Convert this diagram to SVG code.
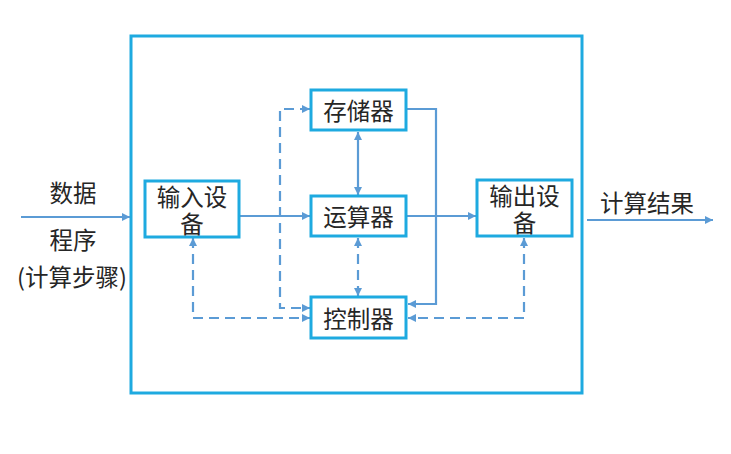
<svg xmlns="http://www.w3.org/2000/svg" width="731" height="454" viewBox="0 0 731 454">
<defs>
<style>
.frame{fill:none;stroke:#1eaae0;stroke-width:3}
.box{fill:#ffffff;stroke:#1eaae0;stroke-width:3}
.t{font-family:"Noto Sans CJK SC","Noto Sans",sans-serif;font-size:23.5px;fill:#262626;text-anchor:middle;dominant-baseline:central}
.c{fill:none;stroke:#5b9bd5;stroke-width:2.2}
.d{stroke-dasharray:10,6}
</style>
<marker id="a" viewBox="0 0 10 10" refX="10" refY="5" markerUnits="userSpaceOnUse" markerWidth="9" markerHeight="8" orient="auto-start-reverse">
<path d="M0,0 L10,5 L0,10 z" fill="#5b9bd5"/>
</marker>
</defs>
<rect width="731" height="454" fill="#ffffff"/>
<rect class="frame" x="131" y="36" width="451" height="357"/>
<g id="connectors">
<line class="c" x1="21" y1="217" x2="130" y2="217" marker-end="url(#a)"/>
<line class="c" x1="240" y1="216" x2="310" y2="216" marker-end="url(#a)"/>
<line class="c" x1="406" y1="216" x2="476" y2="216" marker-end="url(#a)"/>
<line class="c" x1="587" y1="220" x2="713" y2="220" marker-end="url(#a)"/>
<line class="c" x1="358" y1="132" x2="358" y2="195" marker-start="url(#a)" marker-end="url(#a)"/>
<line class="c d" x1="358" y1="238" x2="358" y2="296" marker-start="url(#a)" marker-end="url(#a)"/>
<path class="c" d="M407,109 H436 V304 H408" marker-end="url(#a)"/>
<path class="c d" d="M310,109 H280 V308 H310" marker-start="url(#a)" marker-end="url(#a)"/>
<path class="c d" d="M193,238 V318 H310" marker-start="url(#a)" marker-end="url(#a)"/>
<path class="c d" d="M524,238 V318 H408" marker-start="url(#a)" marker-end="url(#a)"/>
</g>
<g id="input-label">
<text class="t" x="73" y="192">数据</text>
<text class="t" x="73" y="239">程序</text>
<text class="t" x="72" y="276">(计算步骤)</text>
</g>
<g id="output-label">
<text class="t" x="647" y="202">计算结果</text>
</g>
<g id="input-device">
<rect class="box" x="145" y="181" width="94" height="56"/>
<text class="t" x="192" y="196">输入设<tspan x="192" dy="26.5">备</tspan></text>
</g>
<g id="memory">
<rect class="box" x="311" y="90" width="95" height="40"/>
<text class="t" x="358.5" y="110">存储器</text>
</g>
<g id="alu">
<rect class="box" x="311" y="196" width="95" height="40"/>
<text class="t" x="358.5" y="216">运算器</text>
</g>
<g id="controller">
<rect class="box" x="311" y="297" width="95" height="41"/>
<text class="t" x="358.5" y="317.5">控制器</text>
</g>
<g id="output-device">
<rect class="box" x="477" y="180" width="95" height="56"/>
<text class="t" x="524.5" y="195">输出设<tspan x="524.5" dy="26.5">备</tspan></text>
</g>
</svg>
